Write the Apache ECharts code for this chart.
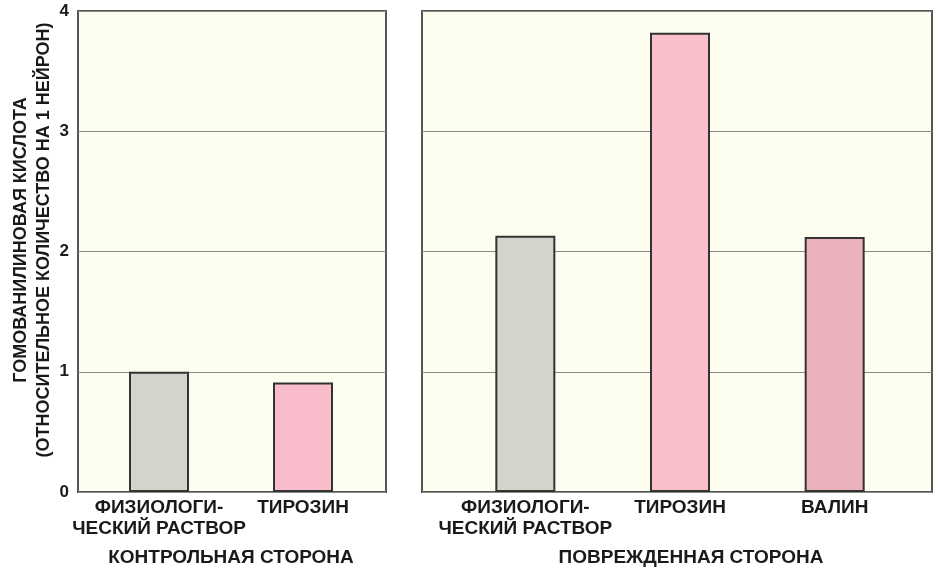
<!DOCTYPE html>
<html><head><meta charset="utf-8">
<script src="https://cdn.jsdelivr.net/npm/echarts@6/dist/echarts.min.js"></script>
<style>html,body{margin:0;padding:0;background:#fff}#c{width:944px;height:572px}</style>
</head><body><div id="c"></div>
<script>
const controlCats = ['ФИЗИОЛОГИ-\nЧЕСКИЙ РАСТВОР', 'ТИРОЗИН'];
const controlVals = [1.0, 0.91];
const injuredCats = ['ФИЗИОЛОГИ-\nЧЕСКИЙ РАСТВОР', 'ТИРОЗИН', 'ВАЛИН'];
const injuredVals = [2.13, 3.82, 2.12];
const yTicks = [0, 1, 2, 3, 4];
const controlTitle = 'КОНТРОЛЬНАЯ СТОРОНА';
const injuredTitle = 'ПОВРЕЖДЕННАЯ СТОРОНА';
const yTitle = 'ГОМОВАНИЛИНОВАЯ КИСЛОТА\n(ОТНОСИТЕЛЬНОЕ КОЛИЧЕСТВО НА 1 НЕЙРОН)';

const FONT = 'Liberation Sans';
const controlColors = ['#d4d4cc', '#f8bccb'];
const injuredColors = ['#d4d4cc', '#f9bfcb', '#ebb2bd'];
const TOP = 11, BOTTOM = 80;

const chart = echarts.init(document.getElementById('c'));
const yMin = yTicks[0], yMax = yTicks[yTicks.length - 1];

function frameY(idx, showLabels) {
  return {
    type: 'value', gridIndex: idx, min: yMin, max: yMax, interval: 1,
    axisLine: {show: false}, axisTick: {show: false},
    axisLabel: {show: showLabels, margin: 9, color: '#1a1a1a', fontFamily: FONT, fontWeight: 'bold', fontSize: 17},
    splitLine: {show: true, lineStyle: {color: '#8a8a86', width: 1}}
  };
}
function barY(idx) {
  return {type: 'value', gridIndex: idx, min: yMin, max: yMax, interval: 1, show: false, splitLine: {show: false}};
}
function barX(idx, cats) {
  return {
    type: 'category', gridIndex: idx, data: cats,
    axisLine: {show: false}, axisTick: {show: false},
    axisLabel: {margin: 5, color: '#1a1a1a', fontFamily: FONT, fontWeight: 'bold', fontSize: 19, lineHeight: 21, align: 'center', interval: 0}
  };
}

chart.setOption({
  animation: false,
  backgroundColor: '#ffffff',
  grid: [
    {left: 78, right: 944 - 386, top: TOP, bottom: BOTTOM, show: true, backgroundColor: '#fdfdf0', borderColor: '#555', borderWidth: 2},
    {left: 422, right: 944 - 932, top: TOP, bottom: BOTTOM, show: true, backgroundColor: '#fdfdf0', borderColor: '#555', borderWidth: 2},
    {left: 87, width: 288, top: TOP, bottom: BOTTOM},
    {left: 448, width: 464, top: TOP, bottom: BOTTOM}
  ],
  xAxis: [
    {type: 'value', gridIndex: 0, show: false, splitLine: {show: false}},
    {type: 'value', gridIndex: 1, show: false, splitLine: {show: false}},
    barX(2, controlCats),
    barX(3, injuredCats)
  ],
  yAxis: [frameY(0, true), frameY(1, false), barY(2), barY(3)],
  series: [
    {
      type: 'bar', xAxisIndex: 2, yAxisIndex: 2, barWidth: 60,
      data: controlVals.map((v, i) => ({value: v, itemStyle: {color: controlColors[i]}})),
      itemStyle: {borderColor: '#333', borderWidth: 2}
    },
    {
      type: 'bar', xAxisIndex: 3, yAxisIndex: 3, barWidth: 60,
      data: injuredVals.map((v, i) => ({value: v, itemStyle: {color: injuredColors[i]}})),
      itemStyle: {borderColor: '#333', borderWidth: 2}
    }
  ],
  graphic: [
    {type: 'text', x: 231, y: 558, style: {text: controlTitle, fill: '#1a1a1a', font: 'bold 19px "' + FONT + '"', textAlign: 'center', textVerticalAlign: 'middle'}},
    {type: 'text', x: 691, y: 558, style: {text: injuredTitle, fill: '#1a1a1a', font: 'bold 19px "' + FONT + '"', textAlign: 'center', textVerticalAlign: 'middle'}},
    {type: 'text', x: 33, y: 240, rotation: Math.PI / 2, style: {text: yTitle, fill: '#1a1a1a', font: 'bold 18px "' + FONT + '"', lineHeight: 23, textAlign: 'center', textVerticalAlign: 'middle'}}
  ]
});
</script></body></html>
